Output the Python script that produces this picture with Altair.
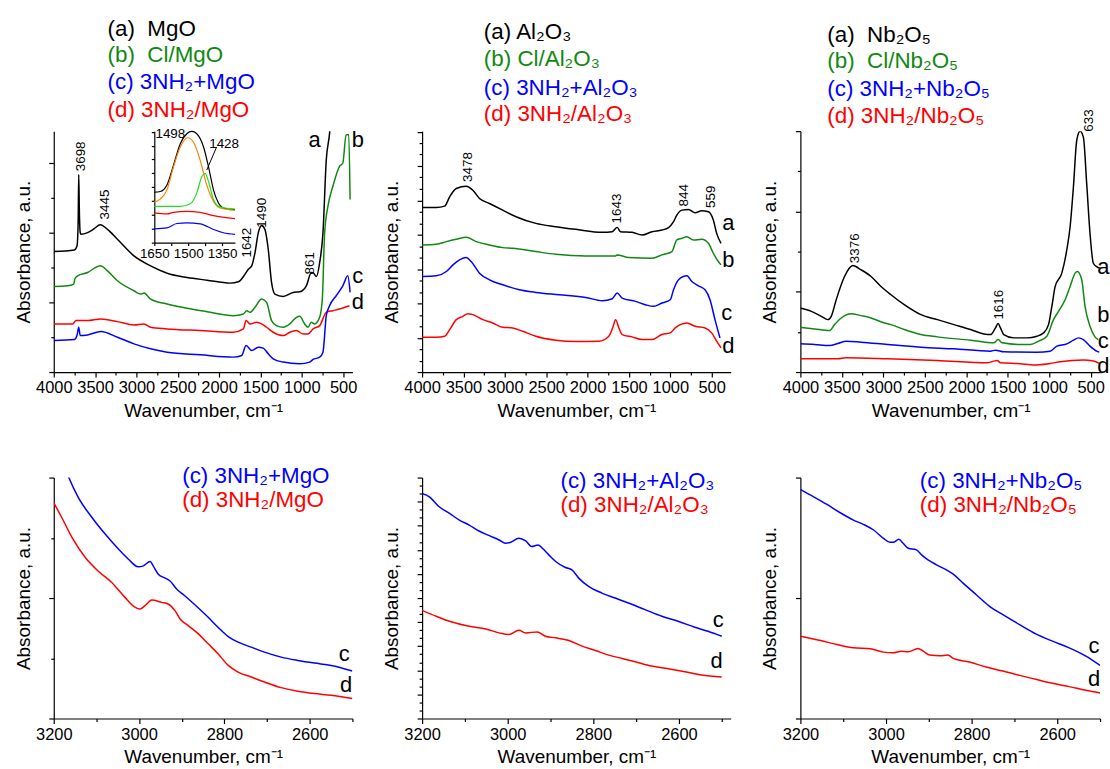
import altair as alt
import pandas as pd

FONT = "Liberation Sans"
C_A = "#000000"
C_B = "#118811"
C_C = "#0000ff"
C_D = "#ff0000"
C_ORANGE = "#ff8000"
C_LIME = "#22dd22"

XTITLE = "Wavenumber, cm⁻¹"
YTITLE = "Absorbance, a.u."

# ---------------- MgO (survey) ----------------
MGO_A_WN = [4000, 3751, 3719, 3705, 3698, 3690, 3680, 3671, 3591, 3511, 3439, 3350, 3230, 3030, 2829, 2629, 2388, 2148,
            1867, 1767, 1686, 1646, 1606, 1566, 1526, 1486, 1446, 1406, 1366, 1326, 1225, 1105, 1025, 945, 885, 857,
            824, 784, 744, 704, 664, 640]
MGO_A_AB = [363, 368, 380, 450, 595, 480, 420, 415, 420, 432, 444, 430, 400, 350, 320, 298, 285, 277,
            268, 272, 295, 310, 320, 360, 420, 442, 430, 370, 270, 235, 228, 240, 242, 260, 300, 298,
            288, 330, 420, 640, 720, 800]
MGO_B_WN = [4000, 3832, 3759, 3743, 3711, 3591, 3471, 3439, 3350, 3230, 3030, 2949, 2909, 2829, 2629, 2388, 2148,
            1827, 1707, 1666, 1626, 1566, 1486, 1426, 1366, 1306, 1225, 1145, 1065, 1025, 965, 925, 885, 845,
            784, 752, 724, 684, 624, 544, 504, 464, 432, 416]
MGO_B_AB = [258, 260, 265, 282, 290, 300, 318, 320, 305, 275, 245, 235, 238, 220, 205, 192, 182,
            170, 175, 185, 180, 195, 220, 210, 155, 140, 135, 145, 165, 168, 145, 135, 150, 145,
            165, 220, 420, 500, 560, 620, 630, 715, 715, 520]
MGO_C_WN = [4000, 3751, 3719, 3698, 3680, 3591, 3431, 3230, 3030, 2829, 2629, 2228, 1827, 1727, 1674, 1606, 1526,
            1466, 1406, 1346, 1225, 1025, 905, 864, 784, 744, 704, 664, 584, 504, 444, 416]
MGO_C_AB = [95, 98, 110, 135, 110, 112, 122, 105, 85, 70, 60, 52, 45, 50, 80, 65, 75,
            72, 55, 40, 30, 25, 30, 38, 45, 60, 170, 200, 230, 260, 290, 240]
MGO_D_WN = [4000, 3771, 3731, 3591, 3431, 3230, 3030, 2909, 2829, 2629, 2228, 1827, 1707, 1674, 1626, 1546, 1486,
            1426, 1346, 1225, 1145, 1065, 985, 925, 864, 784, 704, 624, 544, 424]
MGO_D_AB = [145, 145, 155, 155, 160, 152, 142, 145, 135, 130, 125, 120, 130, 155, 145, 150, 145,
            135, 120, 110, 120, 125, 115, 115, 130, 140, 180, 185, 190, 200]

# inset (1650-1300 cm-1)
INS_A_WN = [1650, 1624, 1594, 1565, 1535, 1506, 1484, 1462, 1432, 1410, 1388, 1366, 1344, 1293]
INS_A_AB = [153, 155, 175, 235, 300, 330, 337, 330, 290, 230, 160, 120, 105, 100]
INS_OR_WN = [1650, 1624, 1594, 1565, 1535, 1503, 1477, 1447, 1418, 1388, 1359, 1293]
INS_OR_AB = [123, 132, 160, 230, 290, 318, 305, 250, 175, 125, 105, 98]
INS_GR_WN = [1650, 1535, 1491, 1462, 1440, 1425, 1410, 1388, 1359, 1293]
INS_GR_AB = [110, 110, 118, 150, 200, 210, 185, 130, 108, 102]
INS_D_WN = [1650, 1594, 1565, 1506, 1447, 1388, 1293]
INS_D_AB = [90, 87, 92, 95, 92, 82, 73]
INS_C_WN = [1650, 1594, 1550, 1506, 1447, 1388, 1344, 1293]
INS_C_AB = [42, 45, 58, 60, 57, 40, 30, 25]
INS_LEADER_WN = [1374, 1418]
INS_LEADER_AB = [290, 220]
INS_LABEL_TEXT = ["1498", "1428"]
INS_LABEL_WN = [1579, 1341]
INS_LABEL_AB = [330, 300]

# ---------------- Al2O3 (survey) ----------------
AL_A_WN = [4000, 3828, 3727, 3667, 3587, 3467, 3387, 3306, 3186, 3026, 2865, 2625, 2384, 2144, 1823, 1702, 1642,
           1602, 1462, 1342, 1221, 1101, 1021, 961, 921, 860, 780, 700, 620, 540, 480, 440, 387]
AL_A_AB = [496, 496, 500, 528, 553, 560, 548, 523, 508, 488, 468, 448, 438, 430, 421, 423, 436,
           423, 421, 413, 423, 428, 435, 453, 473, 488, 490, 480, 486, 483, 458, 418, 388]
AL_B_WN = [4000, 3828, 3707, 3587, 3467, 3346, 3186, 3026, 2905, 2625, 2384, 2023, 1662, 1642, 1502, 1221, 1101,
           981, 921, 860, 800, 720, 620, 540, 480, 420, 387]
AL_B_AB = [383, 385, 393, 400, 406, 393, 383, 375, 373, 363, 355, 350, 350, 353, 345, 343, 353,
           363, 398, 403, 408, 398, 400, 388, 358, 333, 323]
AL_C_WN = [4000, 3828, 3707, 3627, 3547, 3467, 3407, 3306, 3186, 3026, 2825, 2625, 2344, 2023, 1823, 1702, 1642,
           1582, 1422, 1302, 1201, 1101, 1001, 961, 900, 800, 740, 660, 580, 520, 460, 400]
AL_C_AB = [288, 290, 303, 323, 338, 345, 333, 298, 278, 263, 248, 240, 233, 225, 215, 221, 238,
           223, 213, 203, 198, 208, 218, 248, 278, 290, 273, 260, 248, 218, 158, 103]
AL_D_WN = [4000, 3828, 3727, 3667, 3587, 3507, 3447, 3387, 3266, 3146, 3026, 2905, 2785, 2625, 2384, 2144, 1863,
           1743, 1690, 1662, 1622, 1582, 1462, 1342, 1221, 1101, 1001, 941, 880, 800, 700, 580, 500, 440, 387]
AL_D_AB = [105, 105, 108, 128, 158, 168, 176, 173, 158, 148, 135, 133, 123, 108, 96, 92, 93,
           108, 138, 158, 133, 113, 106, 98, 98, 113, 118, 133, 143, 148, 138, 133, 118, 93, 73]

# ---------------- Nb2O5 (survey) ----------------
NB_A_WN = [4000, 3868, 3748, 3668, 3628, 3568, 3468, 3368, 3268, 3148, 3028, 2908, 2748, 2548, 2348, 2148, 1948,
           1788, 1708, 1648, 1616, 1588, 1548, 1428, 1268, 1148, 1068, 1008, 968, 928, 848, 788, 748, 708, 668,
           628, 588, 548, 508, 468, 428, 388]
NB_A_AB = [193, 183, 168, 158, 168, 218, 288, 321, 308, 288, 258, 233, 203, 173, 158, 143, 128,
           115, 113, 133, 146, 133, 113, 103, 103, 108, 118, 143, 198, 258, 298, 368, 438, 558, 698,
           726, 708, 568, 418, 328, 318, 313]
NB_B_WN = [4000, 3828, 3648, 3588, 3508, 3388, 3268, 3148, 2988, 2908, 2748, 2548, 2348, 1948, 1668, 1616, 1568,
           1348, 1228, 1128, 1028, 948, 888, 808, 748, 688, 660, 608, 568, 508, 448, 408]
NB_B_AB = [135, 130, 125, 143, 163, 176, 170, 163, 148, 143, 128, 113, 106, 96, 88, 98, 88,
           83, 83, 93, 108, 158, 183, 218, 258, 298, 303, 278, 198, 138, 106, 98]
NB_C_WN = [4000, 3828, 3648, 3548, 3448, 3268, 2948, 2548, 2148, 1708, 1648, 1548, 1148, 988, 908, 788, 708,
           648, 588, 508, 428, 396]
NB_C_AB = [85, 83, 80, 86, 93, 90, 83, 75, 70, 63, 66, 61, 60, 63, 78, 85, 96,
           103, 98, 78, 63, 60]
NB_D_WN = [4000, 3548, 3448, 2948, 2348, 1748, 1668, 1628, 1588, 1348, 1188, 988, 868, 588, 468, 396]
NB_D_AB = [40, 40, 43, 40, 35, 28, 33, 35, 28, 25, 21, 26, 31, 36, 33, 26]

# ---------------- 3200-2500 cm-1 zooms ----------------
MGO_C2_WN = [3175, 3165, 3142, 3110, 3079, 3048, 3025, 3002, 2990, 2974, 2967, 2955, 2939, 2928, 2912, 2893, 2861,
             2838, 2815, 2791, 2768, 2737, 2706, 2667, 2628, 2589, 2550, 2500]
MGO_C2_AB = [760, 727, 665, 605, 555, 510, 480, 457, 460, 473, 460, 435, 423, 415, 390, 370, 333,
             305, 275, 247, 230, 215, 200, 185, 175, 167, 160, 143]
MGO_D2_WN = [3200, 3181, 3157, 3126, 3095, 3064, 3033, 3009, 2998, 2986, 2970, 2947, 2932, 2916, 2904, 2885, 2861,
             2838, 2815, 2791, 2768, 2737, 2706, 2667, 2628, 2589, 2550, 2500]
MGO_D2_AB = [650, 605, 545, 485, 443, 410, 365, 335, 330, 340, 357, 350, 345, 325, 300, 280, 255,
             225, 195, 160, 140, 125, 110, 93, 82, 75, 70, 60]
AL_C2_WN = [3200, 3183, 3160, 3136, 3113, 3090, 3067, 3043, 3020, 3005, 2993, 2974, 2958, 2944, 2929, 2919, 2904,
            2888, 2865, 2850, 2834, 2811, 2780, 2749, 2718, 2679, 2640, 2602, 2563, 2532, 2500]
AL_C2_AB = [678, 668, 638, 618, 598, 583, 565, 551, 538, 528, 531, 543, 535, 518, 523, 513, 493,
            473, 455, 448, 423, 398, 378, 363, 348, 328, 308, 293, 275, 263, 248]
AL_D2_WN = [3200, 3167, 3136, 3090, 3051, 3020, 2997, 2974, 2958, 2931, 2912, 2888, 2857, 2826, 2795, 2764, 2733,
            2702, 2664, 2625, 2586, 2547, 2500]
AL_D2_AB = [326, 308, 293, 278, 270, 258, 253, 266, 258, 261, 248, 243, 235, 218, 205, 191, 181,
            171, 158, 150, 141, 131, 125]
NB_C2_WN = [3200, 3169, 3138, 3107, 3076, 3053, 3029, 3006, 2991, 2983, 2970, 2960, 2948, 2929, 2917, 2902, 2882,
            2859, 2843, 2820, 2789, 2758, 2727, 2688, 2650, 2611, 2572, 2533, 2500]
NB_C2_AB = [690, 668, 645, 620, 598, 585, 568, 543, 531, 531, 540, 528, 513, 508, 493, 478, 463,
            448, 435, 408, 373, 338, 313, 283, 255, 233, 213, 188, 160]
NB_D2_WN = [3200, 3153, 3115, 3076, 3037, 3006, 2983, 2964, 2948, 2925, 2913, 2898, 2874, 2855, 2843, 2805, 2766,
            2727, 2688, 2650, 2611, 2572, 2533, 2500]
NB_D2_AB = [248, 235, 223, 213, 210, 200, 198, 203, 201, 211, 203, 191, 189, 191, 181, 170, 155,
            143, 130, 118, 106, 96, 85, 77]

# curve letters (text, wavenumber, absorbance)
LET_MGO = (["a", "b", "c", "d"], [844, 323, 323, 323], [700, 700, 290, 210])
LET_AL = (["a", "b", "c", "d"], [299, 299, 319, 299], [448, 338, 178, 78])
LET_NB = (["a", "b", "c", "d"], [348, 348, 348, 348], [318, 172, 92, 18])
LET_MGO2 = (["c", "d"], [2519, 2515], [195, 100])
LET_AL2 = (["c", "d"], [2508, 2512], [298, 173])
LET_NB2 = (["c", "d"], [2514, 2514], [218, 118])

# peak annotations
ANN_MGO = (["3698", "3445", "1642", "1490", "861"], [3671, 3378, 1666, 1486, 897], [650, 505, 390, 480, 328])
ANN_AL = (["3478", "1643", "844", "559"], [3447, 1642, 840, 508], [618, 493, 533, 528])
ANN_NB = (["3376", "1616", "633"], [3340, 1600, 516], [373, 203, 758])

# legend texts
LEG_MGO = ["(a)\u00a0 MgO", "(b)\u00a0 Cl/MgO", "(c) 3NH₂+MgO", "(d) 3NH₂/MgO"]
LEG_AL = ["(a) Al₂O₃", "(b) Cl/Al₂O₃", "(c) 3NH₂+Al₂O₃", "(d) 3NH₂/Al₂O₃"]
LEG_NB = ["(a)\u00a0 Nb₂O₅", "(b)\u00a0 Cl/Nb₂O₅", "(c) 3NH₂+Nb₂O₅", "(d) 3NH₂/Nb₂O₅"]
LEG_MGO2 = ["(c) 3NH₂+MgO", "(d) 3NH₂/MgO"]
LEG_AL2 = ["(c) 3NH₂+Al₂O₃", "(d) 3NH₂/Al₂O₃"]
LEG_NB2 = ["(c) 3NH₂+Nb₂O₅", "(d) 3NH₂/Nb₂O₅"]

TOP_XTICKS = list(range(4000, 499, -250))
BOT_XTICKS = list(range(3200, 2499, -100))
YMAX = 726


def make_ticks(step, n, every):
    vals = [round(i * step, 3) for i in range(n + 1)]
    majors = [v for i, v in enumerate(vals) if i % every == 0]
    return vals, majors


def build_panel(curves, letters, annots, legend, legend_pos, xdom, xticks, xmajor, yspec, width, extra=None):
    xtest = f"datum.value % {xmajor} === 0"
    yvals, ymaj = yspec
    ytest = f"indexof({ymaj}, datum.value) >= 0"
    x = alt.X("wn:Q", scale=alt.Scale(domain=xdom, reverse=True, nice=False, zero=False),
              axis=alt.Axis(values=xticks, title=XTITLE, labelExpr=f"{xtest} ? '' + datum.value : ''",
                            tickSize={"condition": {"test": xtest, "value": 5}, "value": 3},
                            labelOverlap=False, labelFlush=False, grid=False))
    y = alt.Y("ab:Q", scale=alt.Scale(domain=[0, YMAX], nice=False, zero=False),
              axis=alt.Axis(values=yvals, labels=False, title=YTITLE, titlePadding=15, grid=False,
                            tickSize={"condition": {"test": ytest, "value": 5}, "value": 3}))
    layers = []
    for wn, ab, col in curves:
        layers.append(
            alt.Chart(pd.DataFrame({"wn": wn, "ab": ab}))
            .mark_line(color=col, strokeWidth=1.5, clip=True, interpolate="monotone")
            .encode(x=x, y=y, order=alt.Order("wn:Q", sort="descending"))
        )
    lt, lw, la = letters
    layers.append(
        alt.Chart(pd.DataFrame({"wn": lw, "ab": la, "t": lt}))
        .mark_text(font=FONT, fontSize=22, color="black", align="center", baseline="middle")
        .encode(x=x, y=y, text="t:N")
    )
    if annots is not None:
        at, aw, aa = annots
        layers.append(
            alt.Chart(pd.DataFrame({"wn": aw, "ab": aa, "t": at}))
            .mark_text(font=FONT, fontSize=13.5, color="black", angle=270, align="center", baseline="middle")
            .encode(x=x, y=y, text="t:N")
        )
    lx, lys = legend_pos
    for (s, col), ly in zip(legend, lys):
        layers.append(
            alt.Chart(pd.DataFrame({"t": [s]}))
            .mark_text(font=FONT, fontSize=22.5, color=col, align="left", baseline="middle")
            .encode(x=alt.value(lx), y=alt.value(ly), text="t:N")
        )
    main = alt.layer(*layers)
    if extra is not None:
        return alt.layer(main, extra).resolve_scale(x="independent", y="independent").properties(width=width, height=242)
    return main.properties(width=width, height=242)


def build_inset():
    xi = alt.X("wn:Q", scale=alt.Scale(domain=[1650, 1293], range=[101, 182], nice=False, zero=False),
               axis=alt.Axis(orient="bottom", offset=-130, values=[1650, 1575, 1500, 1425, 1350], title=None,
                             labelExpr="datum.value % 150 === 0 ? '' + datum.value : ''", tickSize=3,
                             labelFontSize=13.5, labelPadding=1, labelOverlap=False, labelFlush=False, grid=False))
    yi = alt.Y("ab:Q", scale=alt.Scale(domain=[0, 338], range=[112, 0], nice=False, zero=False),
               axis=alt.Axis(orient="left", offset=-101, values=list(range(0, 337, 42)), labels=False,
                             title=None, tickSize=3, grid=False))
    layers = []
    for wn, ab, col in [(INS_A_WN, INS_A_AB, C_A), (INS_OR_WN, INS_OR_AB, C_ORANGE), (INS_GR_WN, INS_GR_AB, C_LIME),
                        (INS_D_WN, INS_D_AB, C_D), (INS_C_WN, INS_C_AB, C_C)]:
        layers.append(
            alt.Chart(pd.DataFrame({"wn": wn, "ab": ab}))
            .mark_line(color=col, strokeWidth=1.2, interpolate="monotone")
            .encode(x=xi, y=yi, order=alt.Order("wn:Q", sort="descending"))
        )
    layers.append(
        alt.Chart(pd.DataFrame({"wn": INS_LEADER_WN, "ab": INS_LEADER_AB}))
        .mark_line(color="black", strokeWidth=1)
        .encode(x=xi, y=yi)
    )
    layers.append(
        alt.Chart(pd.DataFrame({"wn": INS_LABEL_WN, "ab": INS_LABEL_AB, "t": INS_LABEL_TEXT}))
        .mark_text(font=FONT, fontSize=13.5, color="black")
        .encode(x=xi, y=yi, text="t:N")
    )
    return alt.layer(*layers)


COLS4 = [C_A, C_B, C_C, C_D]
COLS2 = [C_C, C_D]

p1 = build_panel(
    [(MGO_A_WN, MGO_A_AB, C_A), (MGO_B_WN, MGO_B_AB, C_B), (MGO_D_WN, MGO_D_AB, C_D), (MGO_C_WN, MGO_C_AB, C_C)],
    LET_MGO, ANN_MGO, list(zip(LEG_MGO, COLS4)), (54, [-103, -76, -49, -21]),
    [388, 4000], TOP_XTICKS, 500, make_ticks(105, 6, 2), 300, extra=build_inset())
p2 = build_panel(
    [(AL_A_WN, AL_A_AB, C_A), (AL_B_WN, AL_B_AB, C_B), (AL_C_WN, AL_C_AB, C_C), (AL_D_WN, AL_D_AB, C_D)],
    LET_AL, ANN_AL, list(zip(LEG_AL, COLS4)), (62, [-100, -72, -43, -17]),
    [270, 4000], TOP_XTICKS, 500, make_ticks(34.5, 21, 3), 310)
p3 = build_panel(
    [(NB_A_WN, NB_A_AB, C_A), (NB_B_WN, NB_B_AB, C_B), (NB_C_WN, NB_C_AB, C_C), (NB_D_WN, NB_D_AB, C_D)],
    LET_NB, ANN_NB, list(zip(LEG_NB, COLS4)), (27, [-97, -70, -42, -15]),
    [375, 4000], TOP_XTICKS, 500, make_ticks(121, 6, 2), 302)
p4 = build_panel(
    [(MGO_C2_WN, MGO_C2_AB, C_C), (MGO_D2_WN, MGO_D2_AB, C_D)],
    LET_MGO2, None, list(zip(LEG_MGO2, COLS2)), (129, [-2, 23]),
    [2500, 3200], BOT_XTICKS, 200, make_ticks(181.5, 4, 2), 300)
p5 = build_panel(
    [(AL_C2_WN, AL_C2_AB, C_C), (AL_D2_WN, AL_D2_AB, C_D)],
    LET_AL2, None, list(zip(LEG_AL2, COLS2)), (139, [3, 28]),
    [2479, 3200], BOT_XTICKS, 200, make_ticks(24.2, 30, 3), 310)
p6 = build_panel(
    [(NB_C2_WN, NB_C2_AB, C_C), (NB_D2_WN, NB_D2_AB, C_D)],
    LET_NB2, None, list(zip(LEG_NB2, COLS2)), (120, [3, 28]),
    [2500, 3200], BOT_XTICKS, 200, make_ticks(363, 2, 1), 301)

chart = (
    alt.concat(p1, p2, p3, p4, p5, p6, columns=3, spacing={"row": 106, "column": 70}, bounds="flush")
    .properties(padding={"left": 14, "top": 16, "right": 0, "bottom": 0}, background="white")
    .configure_view(stroke=None)
    .configure_axis(
        labelFont=FONT, titleFont=FONT, labelFontSize=16.5, titleFontSize=19, titleFontWeight="normal",
        labelColor="black", titleColor="black", domainColor="black", tickColor="black",
        domainWidth=1.2, tickWidth=1.2, labelPadding=3, titlePadding=5,
    )
)

chart.save("out.html", embed_options={"renderer": "svg", "actions": False})
